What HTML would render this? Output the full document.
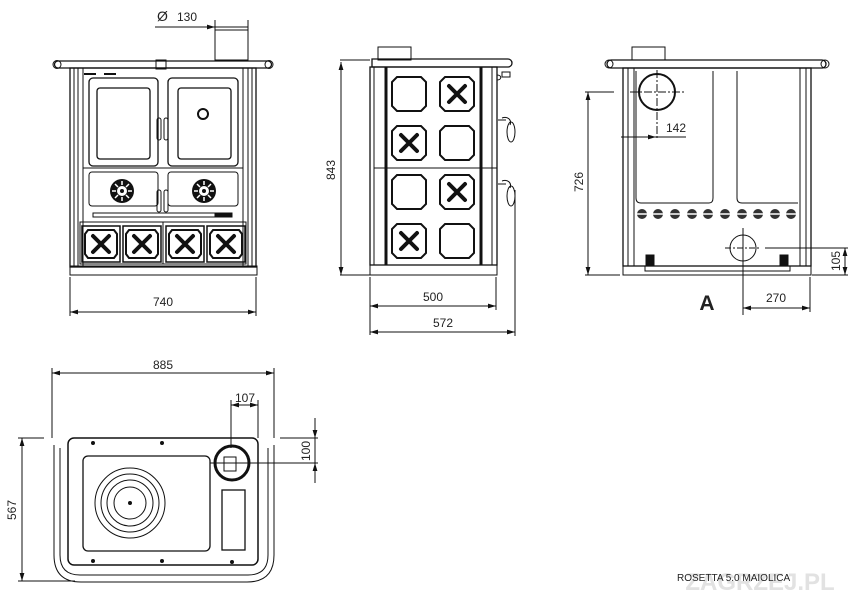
<!DOCTYPE html>
<html><head><meta charset="utf-8"><style>
html,body{margin:0;padding:0;background:#fff;width:850px;height:595px;overflow:hidden}
svg{display:block}
text{font-family:"Liberation Sans",Arial,sans-serif;fill:#222}
</style></head><body>
<svg width="850" height="595" viewBox="0 0 850 595" xmlns="http://www.w3.org/2000/svg">
<defs>
<marker id="a" viewBox="0 0 10 6" refX="10" refY="3" markerWidth="8" markerHeight="5" orient="auto-start-reverse"><path d="M0,0L10,3L0,6z" fill="#111"/></marker>
<g id="tile"><path d="M5,0H29L34,5V29L29,34H5L0,29V5Z" fill="none" stroke="#111" stroke-width="2"/></g>
<g id="xx"><path d="M9,9L25,25M25,9L9,25" stroke="#111" stroke-width="4" stroke-linecap="round"/></g>
<g id="ft"><rect x="0" y="0" width="38" height="36" fill="none" stroke="#111" stroke-width="1.5"/><path d="M6,4H32L35,8V28L32,32H6L3,28V8Z" fill="none" stroke="#111" stroke-width="2"/><path d="M11,10L27,26M27,10L11,26" stroke="#111" stroke-width="4" stroke-linecap="round"/></g>
<g id="dial"><circle r="12" fill="#111"/><circle r="5" fill="#fff"/><circle r="2" fill="#111"/><path d="M0,-10V-6M0,10V6M-10,0H-6M10,0H6M-7,-7L-4,-4M7,7L4,4M-7,7L-4,4M7,-7L4,-4" stroke="#fff" stroke-width="1.5"/></g>
<g id="hole"><circle r="5" fill="#333"/><rect x="-5" y="-1" width="10" height="2" fill="#ccc"/></g>
</defs>
<g fill="none" stroke="#111" stroke-width="1">
<!-- FRONT VIEW -->
<rect x="215" y="30" width="33" height="30"/>
<path d="M58,61H268a3.5,3.5 0 0 1 0,7H58a3.5,3.5 0 0 1 0,-7z" stroke-width="1.3"/>
<circle cx="57" cy="64.5" r="4"/><circle cx="269" cy="64.5" r="4"/>
<rect x="156" y="60" width="10" height="9"/>
<rect x="70" y="68" width="186" height="199" stroke-width="1.3"/>
<rect x="70" y="266" width="187" height="9"/>
<line x1="74" y1="68" x2="74" y2="266"/><line x1="78" y1="68" x2="78" y2="266"/><line x1="83" y1="68" x2="83" y2="266"/>
<line x1="243" y1="68" x2="243" y2="266"/><line x1="248" y1="68" x2="248" y2="266"/><line x1="252" y1="68" x2="252" y2="266"/>
<rect x="89" y="78" width="69" height="88" rx="4" stroke-width="1.3"/>
<rect x="168" y="78" width="70" height="88" rx="4" stroke-width="1.3"/>
<rect x="97" y="88" width="53" height="71" rx="3" stroke-width="1.3"/>
<rect x="178" y="88" width="53" height="71" rx="3" stroke-width="1.3"/>
<circle cx="203" cy="114" r="5" stroke-width="2"/>
<line x1="83" y1="168" x2="243" y2="168"/>
<rect x="89" y="172" width="69" height="34" rx="3"/>
<rect x="168" y="172" width="70" height="34" rx="3"/>
<rect x="157" y="118" width="4" height="22" rx="2"/><rect x="164" y="118" width="4" height="22" rx="2"/>
<rect x="157" y="190" width="4" height="22" rx="2"/><rect x="164" y="190" width="4" height="22" rx="2"/>
<rect x="93" y="213" width="139" height="4"/><rect x="215" y="213" width="17" height="4" fill="#111"/>
<rect x="80" y="222" width="166" height="42"/>
<line x1="163" y1="222" x2="163" y2="264"/>
<line x1="84" y1="74" x2="96" y2="74" stroke-width="2"/><line x1="104" y1="74" x2="116" y2="74" stroke-width="2"/>
<!-- dims front -->
<line x1="155" y1="27" x2="248" y2="27"/>
<line x1="215" y1="20" x2="215" y2="30"/><line x1="248" y1="20" x2="248" y2="30"/>
<line x1="200" y1="27" x2="215" y2="27" marker-end="url(#a)"/>
<line x1="70" y1="277" x2="70" y2="316"/><line x1="256" y1="277" x2="256" y2="316"/>
<line x1="70" y1="312" x2="256" y2="312" marker-start="url(#a)" marker-end="url(#a)"/>
<!-- SIDE VIEW -->
<rect x="378" y="47" width="33" height="13"/>
<path d="M372,59H508a4,4 0 0 1 0,8H372z" stroke-width="1.3"/>
<rect x="370" y="67" width="127" height="198" stroke-width="1.3"/>
<rect x="370" y="265" width="127" height="10"/>
<line x1="374" y1="67" x2="374" y2="265"/>
<line x1="386" y1="67" x2="386" y2="265" stroke-width="3"/>
<line x1="481" y1="67" x2="481" y2="265" stroke-width="3"/>
<line x1="374" y1="168" x2="497" y2="168"/>
<line x1="492" y1="67" x2="492" y2="265"/>
<path d="M497,75c5,0 5,5 0,5M502,72h8v5h-8z"/>
<path d="M498,120h8"/><path d="M498,184h8"/>
<path d="M502,118c6,-2 10,2 8,7"/><ellipse cx="511" cy="132" rx="4" ry="10"/>
<path d="M502,181c6,-2 10,2 8,7"/><ellipse cx="511" cy="196" rx="4" ry="10"/>
<line x1="340" y1="60" x2="370" y2="60"/><line x1="340" y1="275" x2="370" y2="275"/>
<line x1="341" y1="62" x2="341" y2="275" marker-start="url(#a)" marker-end="url(#a)"/>
<line x1="370" y1="277" x2="370" y2="335"/><line x1="496" y1="277" x2="496" y2="310"/><line x1="515" y1="190" x2="515" y2="336"/>
<line x1="370" y1="306" x2="496" y2="306" marker-start="url(#a)" marker-end="url(#a)"/>
<line x1="370" y1="332" x2="515" y2="332" marker-start="url(#a)" marker-end="url(#a)"/>
<!-- BACK VIEW -->
<rect x="632" y="47" width="33" height="13"/>
<path d="M611,60H822a4,4 0 0 1 0,8H611a4,4 0 0 1 0,-8z" stroke-width="1.3"/>
<circle cx="609" cy="64" r="4"/><circle cx="825" cy="64" r="4"/>
<rect x="623" y="68" width="188" height="198" stroke-width="1.3"/>
<rect x="623" y="266" width="188" height="9"/><rect x="645" y="266" width="145" height="5"/>
<line x1="628" y1="68" x2="628" y2="266"/><line x1="634" y1="68" x2="634" y2="266"/>
<line x1="800" y1="68" x2="800" y2="266"/><line x1="806" y1="68" x2="806" y2="266"/>
<path d="M636,71V198q0,5 5,5H709q4,0 4,-5V71"/>
<path d="M737,71V198q0,5 5,5H798"/>
<circle cx="657" cy="92" r="18" stroke-width="2"/>
<line x1="630" y1="92" x2="685" y2="92" stroke-dasharray="8,2,2,2"/><line x1="657" y1="70" x2="657" y2="140" stroke-dasharray="8,2,2,2"/>
<circle cx="743" cy="248" r="13"/>
<line x1="725" y1="248" x2="760" y2="248" stroke-dasharray="6,2,2,2"/><line x1="743" y1="228" x2="743" y2="315"/>
<rect x="646" y="255" width="8" height="10" fill="#111"/><rect x="780" y="255" width="8" height="10" fill="#111"/>
<line x1="585" y1="92" x2="614" y2="92"/><line x1="585" y1="275" x2="620" y2="275"/>
<line x1="588" y1="92" x2="588" y2="275" marker-start="url(#a)" marker-end="url(#a)"/>
<line x1="621" y1="137" x2="686" y2="137"/><line x1="641" y1="137" x2="656" y2="137" marker-end="url(#a)"/>
<line x1="765" y1="248" x2="848" y2="248"/><line x1="812" y1="275" x2="848" y2="275"/>
<line x1="845" y1="248" x2="845" y2="275" marker-start="url(#a)" marker-end="url(#a)"/>
<line x1="810" y1="277" x2="810" y2="312"/>
<line x1="743" y1="308" x2="810" y2="308" marker-start="url(#a)" marker-end="url(#a)"/>
<!-- TOP VIEW -->
<rect x="68" y="438" width="190" height="127" rx="6" stroke-width="1.5"/>
<path d="M54,445V555q0,27 27,27H247q27,0 27,-27V445"/>
<path d="M60,448V555q0,20 20,20H248q20,0 20,-20V448"/>
<rect x="83" y="456" width="127" height="95" rx="5" stroke-width="1.3"/>
<circle cx="130" cy="503" r="35"/><circle cx="130" cy="503" r="29"/><circle cx="130" cy="503" r="23"/><circle cx="130" cy="503" r="16"/>
<circle cx="130" cy="503" r="1.5" fill="#111"/>
<circle cx="232" cy="463" r="17" stroke-width="3"/>
<path d="M224,457h12v14h-12z"/>
<rect x="222" y="490" width="23" height="60" stroke-width="1.3"/>
<circle cx="93" cy="443" r="1.5" fill="#111"/><circle cx="162" cy="443" r="1.5" fill="#111"/><circle cx="232" cy="562" r="1.5" fill="#111"/><circle cx="93" cy="561" r="1.5" fill="#111"/><circle cx="162" cy="561" r="1.5" fill="#111"/>
<line x1="52" y1="368" x2="52" y2="438"/><line x1="274" y1="368" x2="274" y2="438"/>
<line x1="52" y1="373" x2="274" y2="373" marker-start="url(#a)" marker-end="url(#a)"/>
<line x1="231" y1="400" x2="231" y2="448"/><line x1="258" y1="400" x2="258" y2="438"/>
<line x1="231" y1="405" x2="258" y2="405" marker-start="url(#a)" marker-end="url(#a)"/>
<line x1="280" y1="438" x2="318" y2="438"/><line x1="210" y1="463" x2="318" y2="463"/>
<line x1="315" y1="418" x2="315" y2="438" marker-end="url(#a)"/><line x1="315" y1="483" x2="315" y2="463" marker-end="url(#a)"/>
<line x1="315" y1="418" x2="315" y2="483"/>
<line x1="18" y1="438" x2="44" y2="438"/><line x1="18" y1="581" x2="75" y2="581"/>
<line x1="22" y1="438" x2="22" y2="581" marker-start="url(#a)" marker-end="url(#a)"/>
</g>
<g stroke="none">
<use href="#dial" x="122" y="191"/><use href="#dial" x="204" y="191"/>
<use href="#hole" x="642" y="214"/><use href="#hole" x="658" y="214"/><use href="#hole" x="675" y="214"/><use href="#hole" x="692" y="214"/><use href="#hole" x="708" y="214"/><use href="#hole" x="725" y="214"/><use href="#hole" x="742" y="214"/><use href="#hole" x="758" y="214"/><use href="#hole" x="775" y="214"/><use href="#hole" x="791" y="214"/>
<use href="#ft" x="82" y="226"/><use href="#ft" x="123" y="226"/><use href="#ft" x="166" y="226"/><use href="#ft" x="207" y="226"/>
<use href="#tile" x="392" y="77"/><use href="#tile" x="440" y="77"/><use href="#xx" x="440" y="77"/>
<use href="#tile" x="392" y="126"/><use href="#xx" x="392" y="126"/><use href="#tile" x="440" y="126"/>
<use href="#tile" x="392" y="175"/><use href="#tile" x="440" y="175"/><use href="#xx" x="440" y="175"/>
<use href="#tile" x="392" y="224"/><use href="#xx" x="392" y="224"/><use href="#tile" x="440" y="224"/>
</g>
<text x="157" y="21" font-size="14">Ø</text><text x="177" y="21" font-size="12">130</text>
<text x="163" y="306" font-size="12" text-anchor="middle">740</text>
<text x="335" y="170" font-size="12" text-anchor="middle" transform="rotate(-90 335 170)">843</text>
<text x="433" y="301" font-size="12" text-anchor="middle">500</text>
<text x="443" y="327" font-size="12" text-anchor="middle">572</text>
<text x="583" y="182" font-size="12" text-anchor="middle" transform="rotate(-90 583 182)">726</text>
<text x="676" y="132" font-size="12" text-anchor="middle">142</text>
<text x="840" y="261" font-size="12" text-anchor="middle" transform="rotate(-90 840 261)">105</text>
<text x="776" y="302" font-size="12" text-anchor="middle">270</text>
<text x="707" y="310" font-size="21" font-weight="bold" text-anchor="middle">A</text>
<text x="163" y="369" font-size="12" text-anchor="middle">885</text>
<text x="245" y="402" font-size="12" text-anchor="middle">107</text>
<text x="310" y="451" font-size="12" text-anchor="middle" transform="rotate(-90 310 451)">100</text>
<text x="16" y="510" font-size="12" text-anchor="middle" transform="rotate(-90 16 510)">567</text>
<text x="760" y="590" font-size="24" font-weight="bold" style="fill:#e2e2e2" text-anchor="middle">ZAGRZEJ.PL</text>
<text x="677" y="581" font-size="10">ROSETTA 5.0 MAIOLICA</text>
</svg>
</body></html>
